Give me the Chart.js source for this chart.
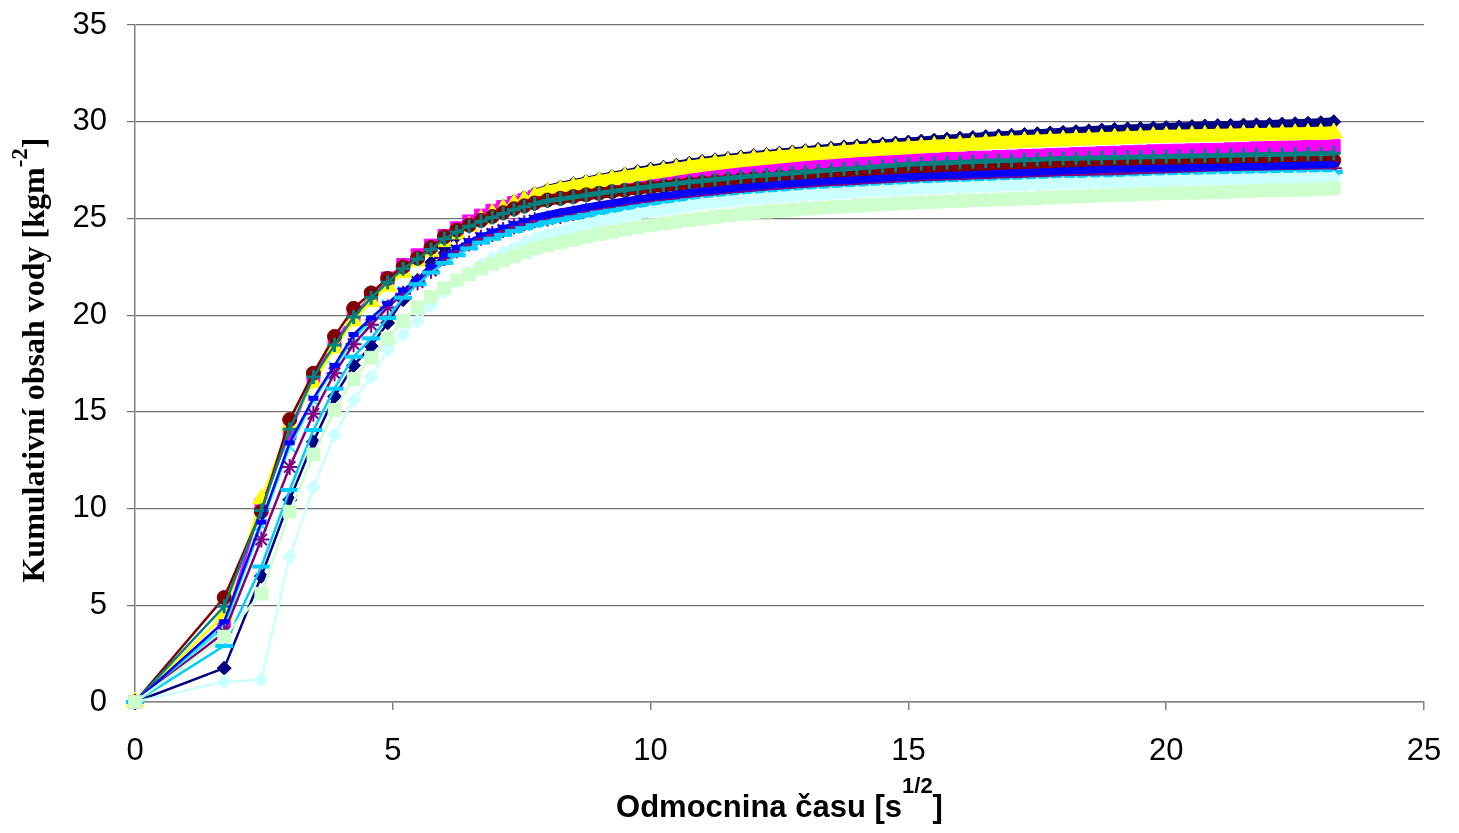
<!DOCTYPE html>
<html>
<head>
<meta charset="utf-8">
<script src="https://cdn.jsdelivr.net/npm/chart.js@4.4.1/dist/chart.umd.min.js"></script>
<style>
  html, body { margin: 0; padding: 0; background: #fff; }
</style>
</head>
<body>
<canvas id="sorptionChart" width="1459" height="833"></canvas>
<script>
// square root of time [s^1/2]
const timeRoot = [0, 1.73, 2.45, 3, 3.46, 3.87, 4.24, 4.58, 4.9, 5.2, 5.48, 5.74, 6, 6.24, 6.48, 6.71, 6.93, 7.14, 7.35, 7.55, 7.75,
  8, 8.25, 8.5, 8.75, 9, 9.25, 9.5, 9.75, 10, 10.25, 10.5, 10.75, 11, 11.25, 11.5, 11.75, 12, 12.25, 12.5, 12.75,
  13, 13.25, 13.5, 13.75, 14, 14.25, 14.5, 14.75, 15, 15.25, 15.5, 15.75, 16, 16.25, 16.5, 16.75, 17, 17.25, 17.5, 17.75,
  18, 18.25, 18.5, 18.75, 19, 19.25, 19.5, 19.75, 20, 20.25, 20.5, 20.75, 21, 21.25, 21.5, 21.75, 22, 22.25, 22.5, 22.75, 23, 23.25];

// cumulative water content [kg m^-2], one list per sample
const sample1 = [0, 1.75, 6.5, 10.45, 13.45, 15.8, 17.4, 18.4, 19.6, 20.8, 21.8, 22.7, 23.5, 24.1, 24.6, 25.0, 25.35, 25.65, 25.9, 26.1, 26.3,
  26.5, 26.65, 26.8, 26.92, 27.05, 27.18, 27.3, 27.43, 27.55, 27.65, 27.75, 27.85, 27.95, 28.03, 28.1, 28.18,
  28.25, 28.3, 28.38, 28.44, 28.5, 28.57, 28.63, 28.7, 28.75, 28.8, 28.85, 28.9, 28.95, 29.0, 29.05, 29.1,
  29.15, 29.19, 29.23, 29.27, 29.3, 29.34, 29.38, 29.42, 29.45, 29.49, 29.53, 29.57, 29.6, 29.63, 29.65, 29.68,
  29.7, 29.73, 29.75, 29.78, 29.8, 29.81, 29.83, 29.84, 29.85, 29.88, 29.9, 29.92, 29.95, 30.0];
const sample2 = [0, 3.9, 10.2, 13.9, 16.8, 18.6, 20.0, 21.0, 21.9, 22.6, 23.1, 23.6, 24.1, 24.5, 24.85, 25.15, 25.4, 25.6, 25.8, 25.95, 26.1,
  26.25, 26.35, 26.45, 26.55, 26.65, 26.73, 26.8, 26.88, 26.95, 27.01, 27.08, 27.14, 27.2, 27.26, 27.33, 27.39,
  27.45, 27.5, 27.55, 27.6, 27.65, 27.7, 27.75, 27.8, 27.85, 27.89, 27.93, 27.96, 28.0, 28.03, 28.05, 28.08,
  28.1, 28.13, 28.15, 28.18, 28.2, 28.23, 28.25, 28.28, 28.3, 28.33, 28.35, 28.38, 28.4, 28.43, 28.45, 28.48,
  28.5, 28.51, 28.53, 28.54, 28.55, 28.58, 28.6, 28.63, 28.65, 28.67, 28.68, 28.7, 28.72, 28.75];
const sample3 = [0, 4.5, 10.5, 14.3, 16.5, 18.3, 19.7, 20.7, 21.5, 22.2, 22.8, 23.3, 23.8, 24.2, 24.6, 24.95, 25.25, 25.5, 25.75, 25.95, 26.15,
  26.35, 26.5, 26.63, 26.77, 26.9, 27.02, 27.13, 27.24, 27.35, 27.45, 27.55, 27.65, 27.75, 27.83, 27.9, 27.98,
  28.05, 28.11, 28.18, 28.24, 28.3, 28.35, 28.4, 28.45, 28.5, 28.54, 28.58, 28.62, 28.65, 28.69, 28.73, 28.77,
  28.8, 28.84, 28.88, 28.92, 28.95, 28.98, 29.0, 29.03, 29.05, 29.08, 29.1, 29.13, 29.15, 29.18, 29.2, 29.23,
  29.25, 29.26, 29.28, 29.29, 29.3, 29.31, 29.33, 29.34, 29.35, 29.36, 29.38, 29.39, 29.4, 29.42];
const sample4 = [0, 3.9, 9.15, 13.2, 15.6, 17.3, 18.8, 19.7, 20.5, 21.2, 21.75, 22.35, 22.9, 23.3, 23.65, 23.95, 24.15, 24.35, 24.5, 24.65, 24.8,
  24.95, 25.08, 25.2, 25.33, 25.45, 25.55, 25.65, 25.75, 25.85, 25.93, 26.0, 26.08, 26.15, 26.21, 26.28, 26.34,
  26.4, 26.45, 26.5, 26.55, 26.6, 26.65, 26.7, 26.75, 26.8, 26.84, 26.88, 26.91, 26.95, 26.98, 27.0, 27.03,
  27.05, 27.08, 27.1, 27.13, 27.15, 27.18, 27.2, 27.23, 27.25, 27.26, 27.28, 27.29, 27.3, 27.31, 27.33, 27.34,
  27.35, 27.36, 27.38, 27.39, 27.4, 27.41, 27.43, 27.44, 27.45, 27.46, 27.48, 27.49, 27.5, 27.5];
const sample5 = [0, 3.6, 8.4, 12.15, 14.9, 17.0, 18.5, 19.5, 20.4, 21.1, 21.7, 22.3, 22.95, 23.35, 23.7, 24.0, 24.2, 24.4, 24.6, 24.75, 24.9,
  25.0, 25.13, 25.25, 25.38, 25.5, 25.59, 25.68, 25.76, 25.85, 25.91, 25.98, 26.04, 26.1, 26.16, 26.23, 26.29,
  26.35, 26.4, 26.45, 26.5, 26.55, 26.6, 26.65, 26.7, 26.75, 26.79, 26.83, 26.86, 26.9, 26.94, 26.98, 27.01,
  27.05, 27.08, 27.1, 27.13, 27.15, 27.18, 27.2, 27.23, 27.25, 27.28, 27.3, 27.33, 27.35, 27.38, 27.4, 27.43,
  27.45, 27.46, 27.48, 27.49, 27.5, 27.51, 27.53, 27.54, 27.55, 27.56, 27.58, 27.59, 27.6, 27.6];
const sample6 = [0, 5.4, 9.85, 14.6, 17.0, 18.9, 20.35, 21.15, 21.9, 22.5, 22.95, 23.5, 24.05, 24.4, 24.65, 24.9, 25.1, 25.3, 25.5, 25.65, 25.8,
  25.95, 26.04, 26.13, 26.22, 26.3, 26.38, 26.45, 26.53, 26.6, 26.66, 26.73, 26.79, 26.85, 26.9, 26.95, 27.0,
  27.05, 27.09, 27.13, 27.16, 27.2, 27.24, 27.28, 27.31, 27.35, 27.39, 27.43, 27.46, 27.5, 27.53, 27.55, 27.58,
  27.6, 27.63, 27.65, 27.68, 27.7, 27.71, 27.73, 27.74, 27.75, 27.76, 27.78, 27.79, 27.8, 27.81, 27.83, 27.84,
  27.85, 27.86, 27.88, 27.89, 27.9, 27.91, 27.93, 27.94, 27.95, 27.96, 27.98, 27.99, 28.0, 28.0];
const sample7 = [0, 4.95, 9.9, 14.1, 16.8, 18.45, 19.9, 20.9, 21.7, 22.4, 22.9, 23.4, 23.95, 24.3, 24.6, 24.85, 25.05, 25.25, 25.45, 25.6, 25.75,
  25.9, 26.0, 26.1, 26.2, 26.3, 26.39, 26.48, 26.56, 26.65, 26.73, 26.8, 26.88, 26.95, 27.01, 27.08, 27.14,
  27.2, 27.25, 27.3, 27.35, 27.4, 27.45, 27.5, 27.55, 27.6, 27.65, 27.7, 27.75, 27.8, 27.83, 27.85, 27.88,
  27.9, 27.93, 27.95, 27.98, 28.0, 28.03, 28.05, 28.08, 28.1, 28.11, 28.13, 28.14, 28.15, 28.16, 28.18, 28.19,
  28.2, 28.21, 28.23, 28.24, 28.25, 28.26, 28.28, 28.29, 28.3, 28.31, 28.33, 28.34, 28.35, 28.37];
const sample8 = [0, 4.15, 9.3, 13.4, 15.7, 17.4, 19.0, 19.85, 20.6, 21.3, 21.85, 22.5, 23.1, 23.5, 23.85, 24.15, 24.35, 24.55, 24.75, 24.9, 25.05,
  25.2, 25.33, 25.45, 25.58, 25.7, 25.8, 25.9, 26.0, 26.1, 26.18, 26.25, 26.33, 26.4, 26.46, 26.53, 26.59,
  26.65, 26.7, 26.75, 26.8, 26.85, 26.89, 26.93, 26.96, 27.0, 27.04, 27.08, 27.11, 27.15, 27.18, 27.2, 27.23,
  27.25, 27.28, 27.3, 27.33, 27.35, 27.38, 27.4, 27.43, 27.45, 27.48, 27.5, 27.53, 27.55, 27.56, 27.58, 27.59,
  27.6, 27.61, 27.63, 27.64, 27.65, 27.66, 27.68, 27.69, 27.7, 27.72, 27.74, 27.76, 27.78, 27.8];
const sample9 = [0, 2.9, 7.0, 10.96, 14.06, 16.2, 17.85, 18.8, 19.85, 20.9, 21.6, 22.2, 22.7, 23.1, 23.45, 23.75, 23.95, 24.15, 24.35, 24.5, 24.65,
  24.8, 24.93, 25.05, 25.18, 25.3, 25.4, 25.5, 25.6, 25.7, 25.78, 25.85, 25.93, 26.0, 26.06, 26.13, 26.19,
  26.25, 26.3, 26.35, 26.4, 26.45, 26.49, 26.53, 26.56, 26.6, 26.64, 26.68, 26.71, 26.75, 26.78, 26.8, 26.83,
  26.85, 26.88, 26.9, 26.93, 26.95, 26.98, 27.0, 27.03, 27.05, 27.06, 27.08, 27.09, 27.1, 27.13, 27.15, 27.18,
  27.2, 27.23, 27.25, 27.28, 27.3, 27.31, 27.33, 27.34, 27.35, 27.36, 27.38, 27.39, 27.4, 27.4];
const sample10 = [0, 1.05, 1.15, 7.5, 11.1, 13.8, 15.6, 16.8, 18.2, 19.0, 19.7, 20.5, 21.2, 21.75, 22.2, 22.6, 22.95, 23.25, 23.5, 23.75, 23.95,
  24.15, 24.33, 24.5, 24.68, 24.85, 24.98, 25.1, 25.23, 25.35, 25.45, 25.55, 25.65, 25.75, 25.81, 25.88, 25.94,
  26.0, 26.05, 26.1, 26.15, 26.2, 26.24, 26.28, 26.31, 26.35, 26.39, 26.43, 26.46, 26.5, 26.53, 26.55, 26.58,
  26.6, 26.63, 26.65, 26.68, 26.7, 26.73, 26.75, 26.78, 26.8, 26.81, 26.83, 26.84, 26.85, 26.88, 26.9, 26.93,
  26.95, 26.96, 26.98, 26.99, 27.0, 27.01, 27.03, 27.04, 27.05, 27.06, 27.08, 27.09, 27.1, 27.1];
const sample11 = [0, 3.38, 5.6, 9.84, 12.8, 15.1, 16.7, 17.8, 18.8, 19.7, 20.4, 20.95, 21.4, 21.8, 22.1, 22.4, 22.65, 22.85, 23.05, 23.25, 23.45,
  23.6, 23.75, 23.9, 24.05, 24.2, 24.31, 24.43, 24.54, 24.65, 24.74, 24.83, 24.91, 25.0, 25.08, 25.15, 25.23,
  25.3, 25.35, 25.4, 25.45, 25.5, 25.54, 25.58, 25.61, 25.65, 25.69, 25.73, 25.76, 25.8, 25.83, 25.85, 25.88,
  25.9, 25.93, 25.95, 25.98, 26.0, 26.03, 26.05, 26.08, 26.1, 26.13, 26.15, 26.18, 26.2, 26.23, 26.25, 26.28,
  26.3, 26.31, 26.33, 26.34, 26.35, 26.38, 26.4, 26.43, 26.45, 26.46, 26.48, 26.49, 26.5, 26.55];

const xTicks = [0, 5, 10, 15, 20, 25];
const yTicks = [0, 5, 10, 15, 20, 25, 30, 35];

// excel-like marker styles, later series are drawn on top
// band = line width where the markers sit so close they merge into a strip
const seriesStyles = [
  { values: sample1, color: '#000080', marker: 'rectRot', radius: 7, pw: 1, band: 9 },
  { values: sample2, color: '#FF00FF', marker: 'rect', radius: 9, pw: 1, band: 10 },
  { values: sample3, color: '#FFFF00', marker: 'triangle', radius: 10, pw: 1, band: 13 },
  { values: sample4, color: '#00FFFF', marker: 'crossRot', radius: 8, pw: 2, band: 6 },
  { values: sample5, color: '#800080', marker: 'star', radius: 8, pw: 2, band: 6 },
  { values: sample6, color: '#800000', marker: 'circle', radius: 7, pw: 1, band: 11 },
  { values: sample7, color: '#008080', marker: 'cross', radius: 7, pw: 3, band: 5 },
  { values: sample8, color: '#0000FF', marker: 'line', radius: 5, pw: 5, band: 7 },
  { values: sample9, color: '#00CCFF', marker: 'line', radius: 9, pw: 4, band: 5 },
  { values: sample10, color: '#CCFFFF', marker: 'rectRot', radius: 7, pw: 1, band: 11 },
  { values: sample11, color: '#CCFFCC', marker: 'rect', radius: 9, pw: 1, band: 12 },
];

const datasets = seriesStyles.map((s, i) => ({
  data: timeRoot.map((x, k) => ({ x: x, y: s.values[k] })),
  borderColor: s.color,
  backgroundColor: s.color,
  pointBackgroundColor: s.color,
  pointBorderColor: s.color,
  pointStyle: s.marker,
  pointRadius: s.radius,
  pointBorderWidth: s.pw,
  borderWidth: 2.5,
  segment: { borderWidth: ctx => (ctx.p0.parsed.x >= 7.7 ? s.band : 2.5) },
  tension: 0,
  clip: false,
  order: seriesStyles.length - i,
}));

// axis titles with superscripts
const xTitle = [{ text: 'Odmocnina času [s' }, { text: '1/2', sup: true }, { text: ']' }];
const yTitle = [{ text: 'Kumulativní obsah vody [kgm' }, { text: '-2', sup: true }, { text: ']' }];

function drawRichText(ctx, parts, x, y, angle, size, family, rise) {
  ctx.save();
  ctx.translate(x, y);
  ctx.rotate(angle);
  ctx.fillStyle = '#000';
  ctx.textBaseline = 'alphabetic';
  const fontFor = p => 'bold ' + (p.sup ? Math.round(size * 0.72) : size) + 'px ' + family;
  let total = 0;
  parts.forEach(p => {
    ctx.font = fontFor(p);
    p.w = ctx.measureText(p.text).width;
    total += p.w;
  });
  let pos = -total / 2;
  parts.forEach(p => {
    ctx.font = fontFor(p);
    ctx.fillText(p.text, pos, p.sup ? -rise : 0);
    pos += p.w;
  });
  ctx.restore();
}

const titlePlugin = {
  id: 'titlePlugin',
  afterDraw(chart) {
    const area = chart.chartArea;
    drawRichText(chart.ctx, xTitle, (area.left + area.right) / 2, 817, 0, 31, '"Liberation Sans", Arial, sans-serif', 24);
    drawRichText(chart.ctx, yTitle, 44, 360, -Math.PI / 2, 32, '"Liberation Serif", "Times New Roman", serif', 17);
  }
};

new Chart(document.getElementById('sorptionChart'), {
  type: 'line',
  data: { datasets: datasets },
  plugins: [titlePlugin],
  options: {
    responsive: false,
    animation: false,
    devicePixelRatio: 1,
    layout: { padding: { top: 25, right: 35, left: 0, bottom: 0 } },
    plugins: { legend: { display: false }, tooltip: { enabled: false } },
    scales: {
      x: {
        type: 'linear',
        min: 0,
        max: 25,
        afterFit: s => { s.height = 131; s.paddingLeft = 0; s.paddingRight = 0; },
        afterBuildTicks: s => { s.ticks = xTicks.map(v => ({ value: v })); },
        border: { color: '#808080', width: 1.5 },
        grid: { drawOnChartArea: false, drawTicks: true, tickLength: 8, color: '#808080', lineWidth: 1.5 },
        ticks: { color: '#000', padding: 23, font: { family: '"Liberation Sans", Arial', size: 31 }, maxRotation: 0 }
      },
      y: {
        min: 0,
        max: 35,
        afterFit: s => { s.width = 135; s.paddingTop = 0; s.paddingBottom = 0; },
        afterBuildTicks: s => { s.ticks = yTicks.map(v => ({ value: v })); },
        border: { color: '#808080', width: 1.5 },
        grid: { color: '#707070', lineWidth: 1.2, tickLength: 8 },
        ticks: { color: '#000', padding: 20, font: { family: '"Liberation Sans", Arial', size: 31 } }
      }
    }
  }
});
</script>
</body>
</html>
